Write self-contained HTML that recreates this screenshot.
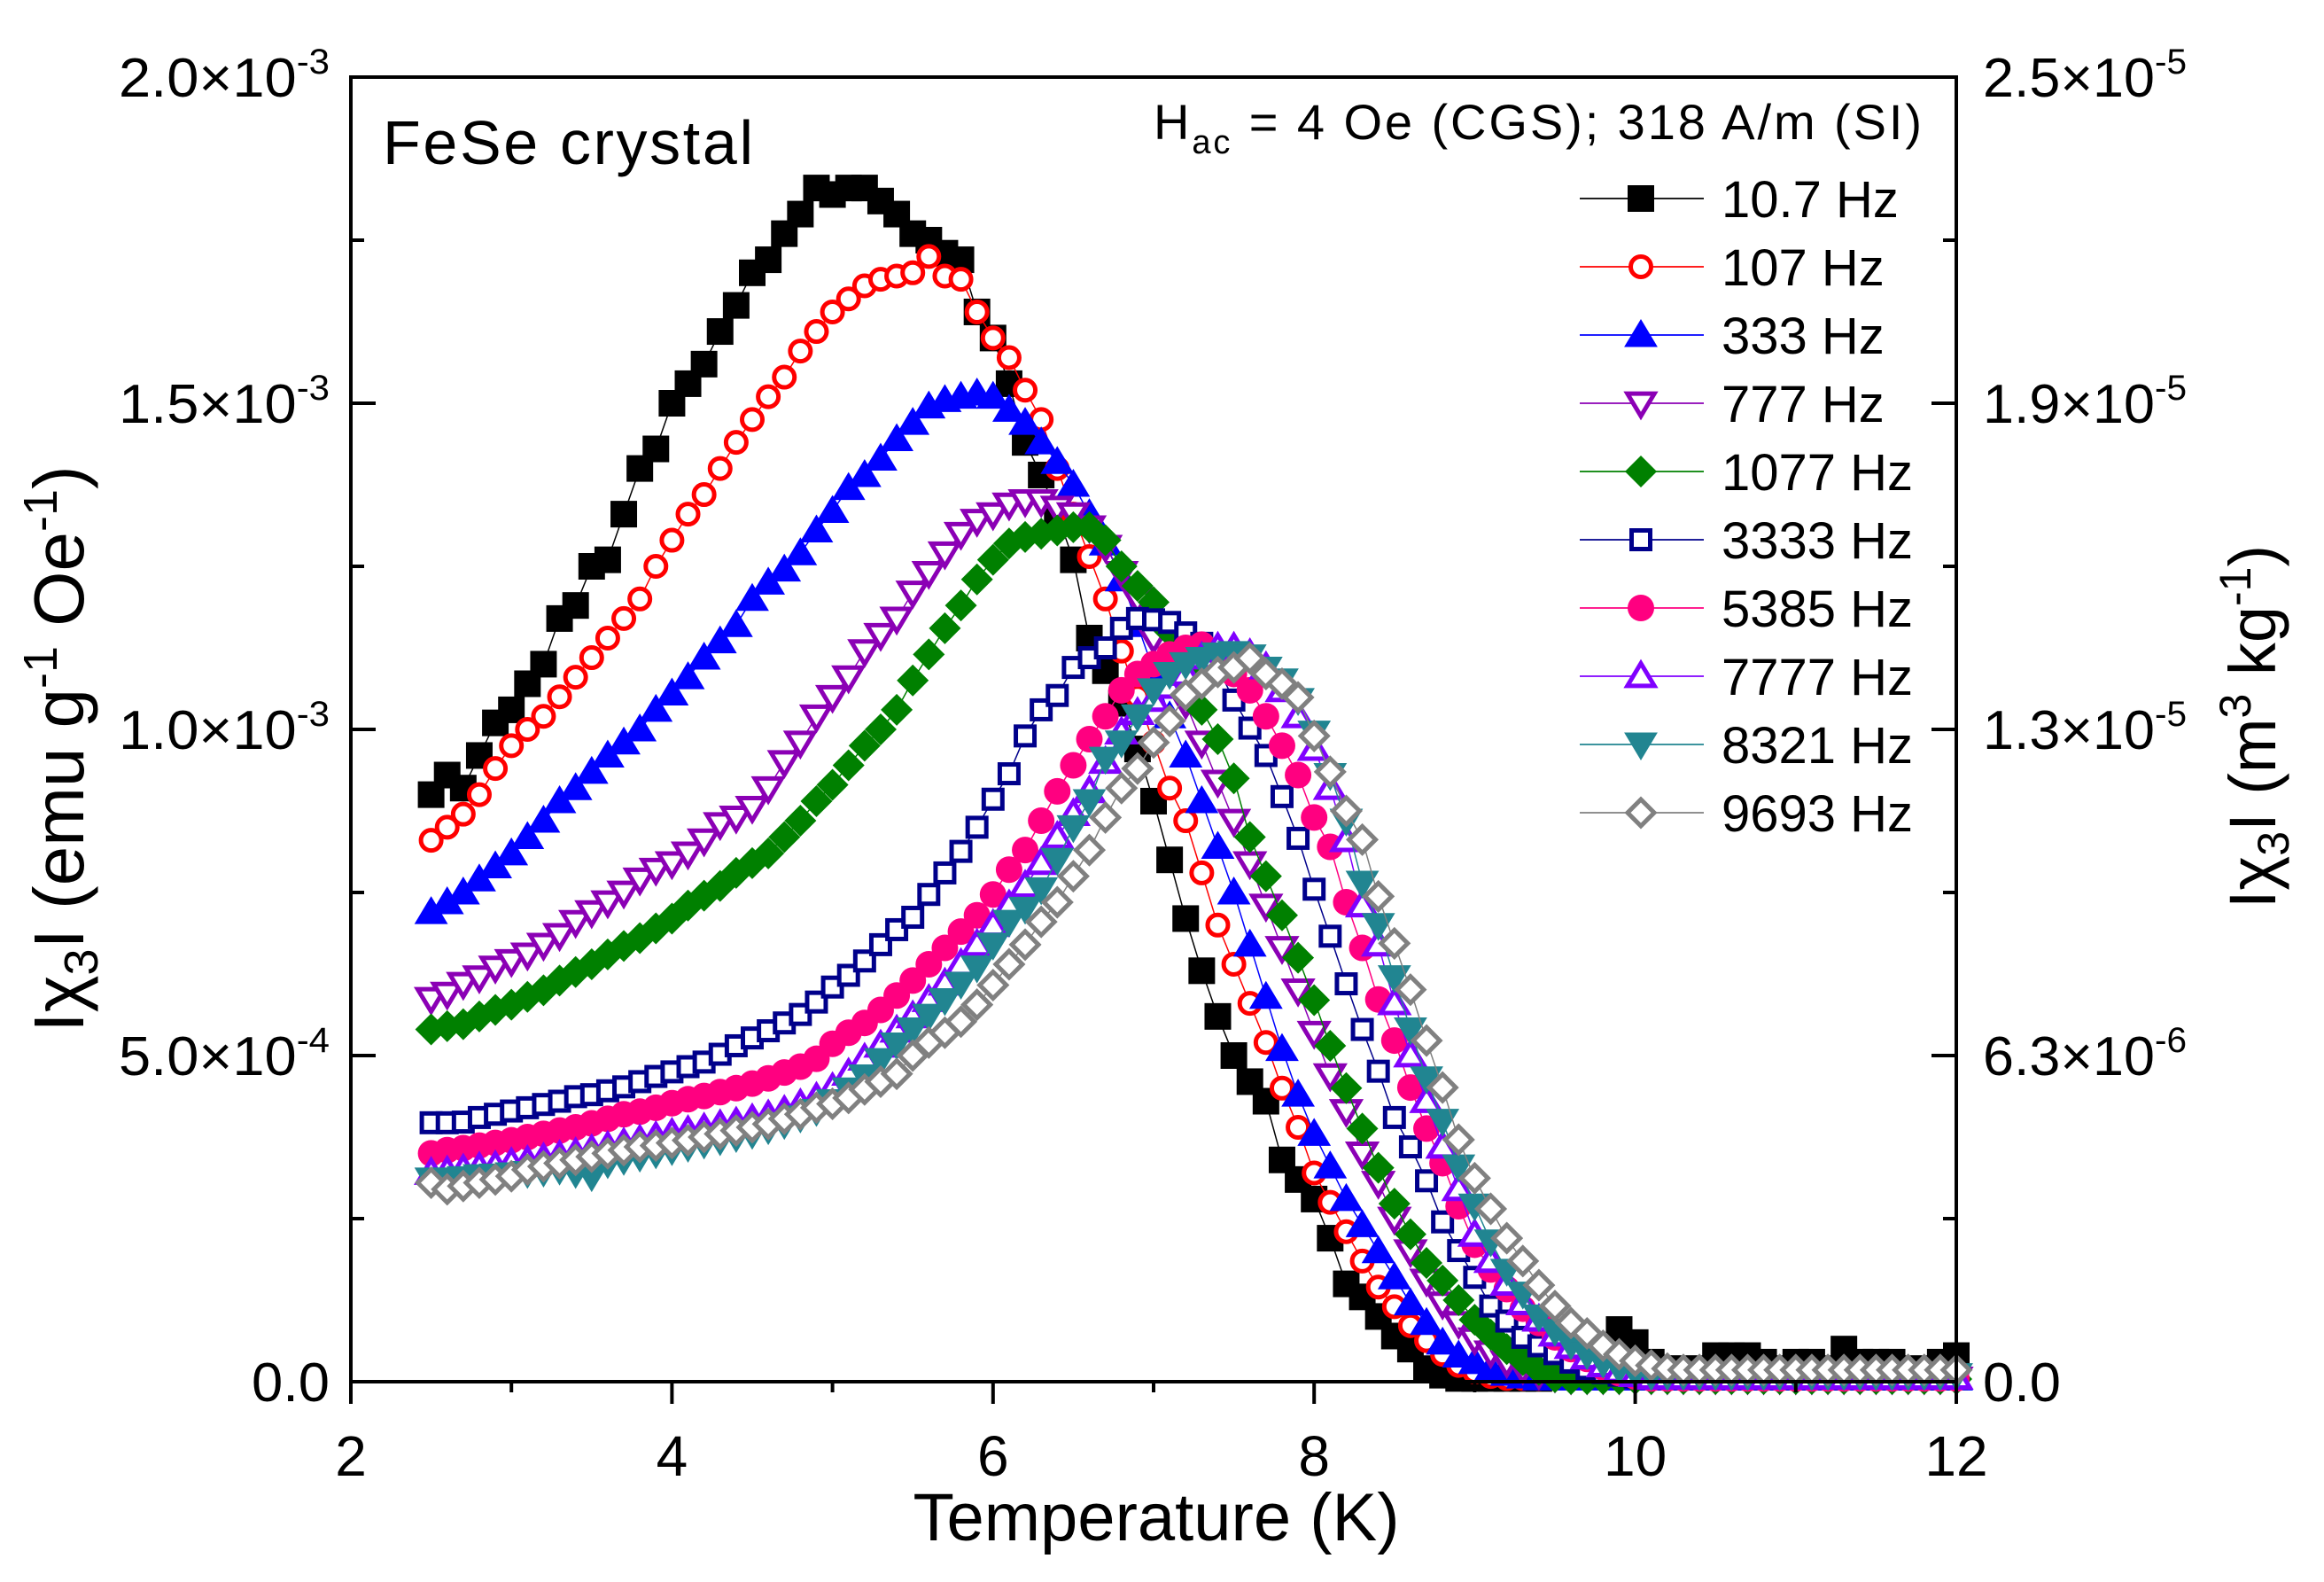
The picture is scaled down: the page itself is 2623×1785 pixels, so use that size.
<!DOCTYPE html>
<html><head><meta charset="utf-8"><style>
html,body{margin:0;padding:0;background:#fff;}
svg{display:block;font-family:"Liberation Sans",Arial,sans-serif;}
</style></head><body>
<svg id="chart" width="2623" height="1785" viewBox="0 0 2623 1785" xmlns="http://www.w3.org/2000/svg">
<rect x="0" y="0" width="2623" height="1785" fill="#fff"/>
<g id="series"></g>
<g id="axes"></g>
<text x="432" y="185" font-size="70" textLength="418">FeSe crystal</text>
<text x="1302" y="157" font-size="56" textLength="867">H<tspan font-size="38" dy="16">ac</tspan><tspan dy="-16"> = 4 Oe (CGS); 318 A/m (SI)</tspan></text>
<g id="legend"></g>
<text x="1305" y="1738" font-size="76" text-anchor="middle">Temperature (K)</text>
<text transform="translate(94,845) rotate(-90)" font-size="80" text-anchor="middle">Iχ<tspan font-size="54" dy="16">3</tspan><tspan dy="-16">I (emu g</tspan><tspan font-size="54" dy="-30">-1</tspan><tspan dy="30"> Oe</tspan><tspan font-size="54" dy="-30">-1</tspan><tspan dy="30">)</tspan></text>
<text transform="translate(2568,820) rotate(-90)" font-size="74" text-anchor="middle">Iχ<tspan font-size="50" dy="15">3</tspan><tspan dy="-15">I (m</tspan><tspan font-size="50" dy="-28">3</tspan><tspan dy="28"> kg</tspan><tspan font-size="50" dy="-28">-1</tspan><tspan dy="28">)</tspan></text>
</svg>
<script>
const temps = [];
for (let i = 0; i < 96; i++) temps.push(+(2.5 + 0.1 * i).toFixed(1));
const xTicks = [2, 4, 6, 8, 10, 12];
const yTicksLeft = [0, 5, 10, 15, 20];
const yTickLabelsLeft = [["0.0",""],["5.0×10","-4"],["1.0×10","-3"],["1.5×10","-3"],["2.0×10","-3"]];
const yTickLabelsRight = [["0.0",""],["6.3×10","-6"],["1.3×10","-5"],["1.9×10","-5"],["2.5×10","-5"]];
const seriesNames = ["10.7 Hz","107 Hz","333 Hz","777 Hz","1077 Hz","3333 Hz","5385 Hz","7777 Hz","8321 Hz","9693 Hz"];
const s107 = [9.0,9.3,9.1,9.6,10.1,10.3,10.7,11.0,11.7,11.9,12.5,12.6,13.3,14.0,14.3,15.0,15.3,15.6,16.1,16.5,17.0,17.2,17.6,17.9,18.3,18.2,18.3,18.3,18.1,17.9,17.6,17.5,17.3,17.2,16.4,16.0,15.3,14.4,13.9,13.3,12.6,11.4,10.9,10.4,9.7,8.9,8.0,7.1,6.3,5.6,5.0,4.6,4.3,3.4,3.1,2.8,2.2,1.5,1.3,1.0,0.7,0.5,0.2,0.1,0.05,0.05,0.05,0.05,0.05,0.05,0.1,0.1,0.2,0.3,0.8,0.6,0.3,0.2,0.2,0.2,0.4,0.4,0.4,0.3,0.2,0.3,0.3,0.2,0.5,0.3,0.3,0.3,0.2,0.2,0.3,0.4];
const s107b = [8.3,8.5,8.7,9.0,9.4,9.75,10.0,10.2,10.5,10.8,11.1,11.4,11.7,12.0,12.5,12.9,13.3,13.6,14.0,14.4,14.75,15.1,15.4,15.8,16.1,16.4,16.6,16.8,16.9,16.95,17.0,17.25,16.95,16.9,16.4,16.0,15.7,15.2,14.75,14.0,13.3,12.65,12.0,11.2,10.5,9.8,9.1,8.6,7.8,7.0,6.4,5.8,5.2,4.5,3.9,3.2,2.75,2.3,1.85,1.45,1.15,0.86,0.63,0.42,0.25,0.15,0.08,0.05,0.05,0.05,0.05,0.05,0.05,0.05,0.05,0.05,0.05,0.05,0.05,0.05,0.05,0.05,0.05,0.05,0.05,0.05,0.05,0.05,0.05,0.05,0.05,0.05,0.05,0.05,0.05,0.05];
const s333 = [7.2,7.35,7.5,7.7,7.9,8.1,8.35,8.6,8.9,9.1,9.35,9.6,9.8,10.0,10.3,10.55,10.8,11.1,11.35,11.6,12.0,12.25,12.45,12.7,13.05,13.35,13.7,13.9,14.15,14.45,14.7,14.95,15.05,15.1,15.15,15.1,14.9,14.7,14.4,14.1,13.75,13.3,12.85,12.3,11.6,10.9,10.2,9.6,8.9,8.2,7.5,6.7,5.9,5.1,4.4,3.8,3.3,2.8,2.4,2.0,1.6,1.2,0.9,0.6,0.4,0.3,0.2,0.12,0.08,0.05,0.05,0.05,0.05,0.05,0.05,0.05,0.05,0.05,0.05,0.05,0.05,0.05,0.05,0.05,0.05,0.05,0.05,0.05,0.05,0.05,0.05,0.05,0.05,0.05,0.05,0.05];
const s777 = [5.87,5.95,6.1,6.2,6.35,6.45,6.55,6.7,6.85,7.05,7.2,7.35,7.5,7.7,7.85,7.95,8.1,8.3,8.55,8.65,8.8,9.1,9.5,9.8,10.2,10.5,10.8,11.2,11.45,11.7,12.1,12.4,12.7,13.0,13.2,13.3,13.45,13.5,13.5,13.4,13.3,13.1,12.8,12.4,12.0,11.4,10.9,10.4,9.8,9.2,8.6,7.95,7.3,6.65,6.0,5.35,4.7,4.15,3.5,3.05,2.5,2.0,1.55,1.2,0.9,0.65,0.45,0.3,0.2,0.12,0.08,0.05,0.05,0.05,0.05,0.05,0.05,0.05,0.05,0.05,0.05,0.05,0.05,0.05,0.05,0.05,0.05,0.05,0.05,0.05,0.05,0.05,0.05,0.05,0.05,0.05];
const s1077 = [5.4,5.45,5.48,5.6,5.7,5.78,5.9,6.0,6.15,6.28,6.4,6.55,6.68,6.8,6.95,7.1,7.3,7.45,7.6,7.8,7.95,8.1,8.35,8.6,8.9,9.15,9.45,9.75,10.0,10.3,10.75,11.15,11.55,11.9,12.3,12.6,12.85,12.95,13.0,13.05,13.1,13.1,12.9,12.5,12.2,11.95,11.5,10.9,10.3,9.85,9.25,8.35,7.75,7.15,6.5,5.85,5.15,4.5,3.88,3.28,2.73,2.26,1.82,1.55,1.25,0.95,0.72,0.5,0.33,0.18,0.07,0.04,0.04,0.04,0.04,0.04,0.04,0.04,0.04,0.04,0.04,0.04,0.04,0.04,0.04,0.04,0.04,0.04,0.04,0.04,0.04,0.04,0.04,0.04,0.04,0.04];
const s3333 = [3.97,3.97,3.98,4.05,4.1,4.15,4.2,4.25,4.3,4.37,4.4,4.46,4.52,4.6,4.68,4.75,4.83,4.9,5.02,5.15,5.27,5.38,5.5,5.63,5.82,6.05,6.23,6.45,6.7,6.93,7.12,7.47,7.8,8.13,8.5,8.93,9.32,9.9,10.3,10.52,10.95,11.1,11.25,11.55,11.7,11.68,11.64,11.48,11.32,10.95,10.45,10.02,9.6,8.97,8.33,7.55,6.83,6.1,5.4,4.76,4.05,3.6,3.08,2.45,2.01,1.6,1.16,0.93,0.68,0.55,0.43,0.3,0.2,0.14,0.1,0.07,0.05,0.05,0.05,0.05,0.05,0.05,0.05,0.05,0.05,0.05,0.05,0.05,0.05,0.05,0.05,0.05,0.05,0.05,0.05,0.05];
const s5385 = [3.5,3.55,3.58,3.62,3.66,3.7,3.75,3.8,3.85,3.9,3.96,4.03,4.1,4.14,4.2,4.27,4.33,4.38,4.44,4.5,4.57,4.65,4.74,4.83,4.95,5.18,5.35,5.5,5.7,5.92,6.15,6.4,6.65,6.9,7.15,7.47,7.85,8.15,8.6,9.05,9.45,9.85,10.2,10.6,10.85,11.0,11.15,11.25,11.3,11.15,10.85,10.6,10.2,9.75,9.3,8.65,8.2,7.35,6.65,5.86,5.23,4.51,3.88,3.35,2.69,2.1,1.72,1.42,1.12,0.9,0.68,0.5,0.35,0.22,0.13,0.08,0.05,0.05,0.05,0.05,0.05,0.05,0.05,0.05,0.05,0.05,0.05,0.05,0.05,0.05,0.05,0.05,0.05,0.05,0.05,0.05];
const s7777 = [3.2,3.22,3.25,3.28,3.3,3.35,3.38,3.42,3.46,3.5,3.55,3.6,3.65,3.7,3.75,3.8,3.84,3.88,3.93,3.97,4.02,4.08,4.15,4.25,4.35,4.5,4.72,4.95,5.15,5.38,5.6,5.85,6.1,6.4,6.7,7.0,7.3,7.6,7.95,8.35,8.7,9.05,9.5,9.95,10.25,10.45,10.65,10.85,11.1,11.25,11.25,11.15,10.95,10.6,10.2,9.7,9.1,8.3,7.3,6.7,5.8,5.0,4.3,3.6,2.95,2.25,1.85,1.5,1.2,0.95,0.72,0.53,0.37,0.25,0.16,0.1,0.06,0.06,0.06,0.06,0.06,0.06,0.06,0.06,0.06,0.06,0.06,0.06,0.06,0.06,0.06,0.06,0.06,0.06,0.06,0.06];
const s8321 = [3.1,3.1,3.12,3.15,3.16,3.18,3.2,3.22,3.25,3.2,3.15,3.35,3.4,3.45,3.5,3.55,3.6,3.65,3.7,3.75,3.8,3.87,3.95,4.05,4.15,4.3,4.48,4.68,4.93,5.17,5.4,5.61,5.85,6.1,6.35,6.7,7.05,7.25,7.55,8.0,8.5,8.9,9.55,9.8,10.2,10.6,10.85,11.0,11.08,11.15,11.17,11.12,10.93,10.75,10.45,9.95,9.3,8.6,7.65,7.0,6.2,5.4,4.65,4.0,3.3,2.7,2.15,1.7,1.35,1.0,0.78,0.57,0.42,0.29,0.2,0.14,0.1,0.1,0.1,0.1,0.1,0.1,0.1,0.1,0.1,0.1,0.1,0.1,0.1,0.1,0.1,0.1,0.1,0.1,0.1,0.1];
const s9693 = [3.05,2.95,3.0,3.05,3.1,3.15,3.25,3.3,3.35,3.4,3.45,3.5,3.55,3.6,3.62,3.66,3.7,3.75,3.8,3.85,3.9,3.95,4.03,4.1,4.2,4.26,4.35,4.48,4.6,4.72,5.0,5.2,5.35,5.52,5.78,6.08,6.4,6.7,7.05,7.35,7.75,8.15,8.65,9.1,9.4,9.8,10.13,10.53,10.7,10.88,10.95,11.09,10.85,10.7,10.49,9.9,9.35,8.75,8.31,7.44,6.72,6.01,5.23,4.51,3.71,3.12,2.65,2.2,1.85,1.48,1.16,0.9,0.74,0.55,0.42,0.32,0.25,0.2,0.18,0.18,0.18,0.18,0.18,0.18,0.18,0.18,0.18,0.18,0.18,0.18,0.18,0.18,0.18,0.18,0.18,0.18];
const seriesValues = [s107, s107b, s333, s777, s1077, s3333, s5385, s7777, s8321, s9693];

const X0 = 396, X1 = 2208, Y0 = 1559, Y1 = 87;
const xMin = 2, xMax = 12, yMin = 0, yMax = 20; // y in units of 1e-4
function xScale(v){ return X0 + (v - xMin) / (xMax - xMin) * (X1 - X0); }
function yScale(v){ return Y0 - (v - yMin) / (yMax - yMin) * (Y0 - Y1); }

const NS = "http://www.w3.org/2000/svg";
function mk(tag, attrs, parent){ const e = document.createElementNS(NS, tag); for (const k in attrs) e.setAttribute(k, attrs[k]); if (parent) parent.appendChild(e); return e; }

const styles = [
 {shape:"square", color:"#000000", fill:true},
 {shape:"circle", color:"#ff0000", fill:false},
 {shape:"up", color:"#0000ff", fill:true},
 {shape:"down", color:"#8b00b5", fill:false},
 {shape:"diamond", color:"#008000", fill:true},
 {shape:"square", color:"#00008b", fill:false},
 {shape:"circle", color:"#ff0080", fill:true},
 {shape:"up", color:"#8000ff", fill:false},
 {shape:"down", color:"#218591", fill:true},
 {shape:"diamond", color:"#808080", fill:false}
];

function marker(g, st, cx, cy){
  const sw = st.fill ? 0 : 5;
  const fill = st.fill ? st.color : "#fff";
  const common = {fill: fill, stroke: st.color, "stroke-width": sw};
  let e;
  if (st.shape === "square") { const h = st.fill ? 15 : 10.5; e = mk("rect", Object.assign({x: cx-h, y: cy-h, width: 2*h, height: 2*h}, common), g); }
  else if (st.shape === "circle") { e = mk("circle", Object.assign({cx: cx, cy: cy, r: st.fill ? 15 : 11.5}, common), g); }
  else if (st.shape === "up") { const r = st.fill ? 18 : 14.5; e = mk("polygon", Object.assign({points: `${cx},${cy-r} ${cx+r*1.05},${cy+r*0.75} ${cx-r*1.05},${cy+r*0.75}`}, common), g); }
  else if (st.shape === "down") { const r = st.fill ? 18 : 14.5; e = mk("polygon", Object.assign({points: `${cx},${cy+r} ${cx+r*1.05},${cy-r*0.75} ${cx-r*1.05},${cy-r*0.75}`}, common), g); }
  else { const r = st.fill ? 18 : 15; e = mk("polygon", Object.assign({points: `${cx},${cy-r} ${cx+r},${cy} ${cx},${cy+r} ${cx-r},${cy}`}, common), g); }
  return e;
}

const sg = document.getElementById("series");
seriesValues.forEach((vals, si) => {
  const st = styles[si];
  const g = mk("g", {}, sg);
  
  
  const pts = vals.map((v, i) => xScale(temps[i]).toFixed(1) + "," + yScale(v).toFixed(1)).join(" ");
  const pl = mk("polyline", {points: pts, fill: "none", stroke: st.color, "stroke-width": 1.5}, g);
  
  
  vals.forEach((v, i) => {
    const m = marker(g, st, xScale(temps[i]), yScale(v));
    
    
  });
});

// axes
const ag = document.getElementById("axes");
const frame = mk("rect", {x: X0, y: Y1, width: X1 - X0, height: Y0 - Y1, fill: "none", stroke: "#000", "stroke-width": 4}, ag);


for (let t = xMin; t <= xMax; t += 1) {
  const major = xTicks.indexOf(t) >= 0;
  const x = xScale(t);
  const tk = mk("line", {x1: x, y1: Y0, x2: x, y2: Y0 + (major ? 25 : 12), stroke: "#000", "stroke-width": 4}, ag);
  
  
}
xTicks.forEach(t => {
  const tl = mk("text", {x: xScale(t), y: 1665, "font-size": 64, "text-anchor": "middle"}, ag);
  tl.textContent = String(t);
  
  
});
for (let v = yMin; v <= yMax; v += 2.5) {
  const major = yTicksLeft.indexOf(v) >= 0;
  const y = yScale(v);
  const l = mk("line", {x1: X0, y1: y, x2: X0 + (major ? 28 : 15), y2: y, stroke: "#000", "stroke-width": 4}, ag);
  
  
  const r = mk("line", {x1: X1, y1: y, x2: X1 - (major ? 28 : 15), y2: y, stroke: "#000", "stroke-width": 4}, ag);
  
  
}
yTicksLeft.forEach((v, i) => {
  const y = yScale(v) + 22;
  const L = yTickLabelsLeft[i], R = yTickLabelsRight[i];
  const tl = mk("text", {x: 372, y: y, "font-size": 62, "text-anchor": "end"}, ag);
  
  
  if (L[1]) { tl.setAttribute('textLength', 238); tl.setAttribute('lengthAdjust', 'spacingAndGlyphs'); tl.innerHTML = L[0] + '<tspan font-size="40" dy="-26">' + L[1] + '</tspan>'; } else { tl.setAttribute('textLength', 88); tl.setAttribute('lengthAdjust', 'spacingAndGlyphs'); tl.textContent = L[0]; }
  const tr = mk("text", {x: 2238, y: y, "font-size": 62}, ag);
  
  
  if (R[1]) { tr.setAttribute('textLength', 230); tr.setAttribute('lengthAdjust', 'spacingAndGlyphs'); tr.innerHTML = R[0] + '<tspan font-size="40" dy="-26">' + R[1] + '</tspan>'; } else { tr.setAttribute('textLength', 88); tr.setAttribute('lengthAdjust', 'spacingAndGlyphs'); tr.textContent = R[0]; }
});

// legend
const lg = document.getElementById("legend");
seriesNames.forEach((name, i) => {
  const y = 224 + 77 * i;
  const e = mk("g", {}, lg);
  
  
  mk("line", {x1: 1783, y1: y, x2: 1923, y2: y, stroke: styles[i].color, "stroke-width": 1.8}, e);
  marker(e, styles[i], 1852, y);
  const t = mk("text", {x: 1943, y: y + 21, "font-size": 58}, e);
  t.textContent = name;
});
</script>
</body></html>
